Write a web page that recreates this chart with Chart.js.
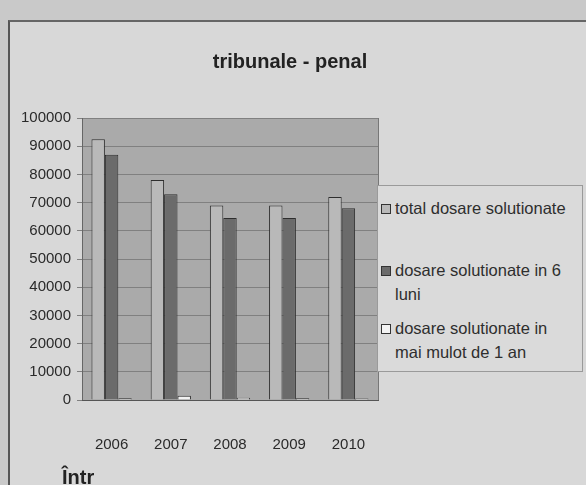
<!DOCTYPE html>
<html>
<head>
<meta charset="utf-8">
<script src="https://cdn.jsdelivr.net/npm/chart.js@4"></script>
<style>
    html, body { margin: 0; padding: 0; }
    body { width: 586px; height: 485px; background: #c9c9c9; overflow: hidden; font-family: 'Liberation Sans', Arial, sans-serif; }
    #frame { position: absolute; left: 8px; top: 20px; width: 600px; height: 480px; background: #d8d8d8; border-left: 2px solid #555; border-top: 2px solid #666; }
    #wrap { position: absolute; left: 0; top: 0; width: 586px; height: 485px; }
    #title { position: absolute; left: 190px; width: 200px; top: 50px; text-align: center; font-size: 20px; font-weight: bold; color: #222; }
    #legend { position: absolute; left: 377px; top: 185px; width: 206px; height: 187px; border: 1px solid #9a9a9a; background: #dadada; box-sizing: border-box; color: #2e2e2e; font-size: 16.5px; }
    .item { position: absolute; left: 3px; line-height: 24px; padding-left: 14px; white-space: nowrap; }
    .sw { position: absolute; left: 0; top: 8px; width: 8px; height: 8px; border: 1px solid #333; }
    #foot { position: absolute; left: 62px; top: 466px; font-size: 20px; font-weight: bold; color: #222; }
</style>
</head>
<body>
<div id="frame"></div>
<div id="wrap"><canvas id="chart" width="586" height="485"></canvas></div>
<div id="title">tribunale - penal</div>
<div id="legend"></div>
<div id="foot">Într</div>
<script>
document.addEventListener('DOMContentLoaded', () => {

    const years = ['2006', '2007', '2008', '2009', '2010'];
    const totalSolutionate = [92500, 78000, 69000, 69000, 72000];
    const solutionate6Luni = [87000, 73000, 64500, 64500, 68000];
    const solutionate1An = [600, 1500, 800, 600, 500];
    const yTicks = [0, 10000, 20000, 30000, 40000, 50000, 60000, 70000, 80000, 90000, 100000];

    const seriesNames = [
        ['total dosare solutionate'],
        ['dosare solutionate in 6', 'luni'],
        ['dosare solutionate in', 'mai mulot de 1 an']
    ];
    const colors = ['#b9b9b9', '#6b6b6b', '#f2f2f2'];

    // plot area background
    const plotBg = {
        id: 'plotBg',
        beforeDraw(chart) {
            const { ctx, chartArea: a } = chart;
            ctx.save();
            ctx.fillStyle = '#aaaaaa';
            ctx.fillRect(a.left, a.top, a.right - a.left, a.bottom - a.top);
            ctx.strokeStyle = '#777';
            ctx.lineWidth = 1;
            ctx.strokeRect(a.left + 0.5, a.top + 0.5, a.right - a.left, a.bottom - a.top);
            ctx.restore();
        }
    };

    const font = { family: "'Liberation Sans', Arial, sans-serif", size: 15 };

    new Chart(document.getElementById('chart').getContext('2d'), {
        type: 'bar',
        data: {
            labels: years,
            datasets: [totalSolutionate, solutionate6Luni, solutionate1An].map((d, i) => ({
                label: seriesNames[i].join(' '),
                data: d,
                backgroundColor: colors[i],
                borderColor: '#2e2e2e',
                borderWidth: 1,
                barPercentage: 1,
                categoryPercentage: 0.68
            }))
        },
        options: {
            responsive: false,
            animation: false,
            layout: { padding: { left: 0, right: 208, top: 118, bottom: 35 } },
            plugins: {
                legend: { display: false },
                tooltip: { enabled: false }
            },
            scales: {
                y: {
                    min: 0, max: 100000,
                    afterBuildTicks: axis => { axis.ticks = yTicks.map(v => ({ value: v })); },
                    afterFit: axis => { axis.width = 82; },
                    grid: { color: '#808080', drawTicks: true, tickLength: 5 },
                    border: { color: '#666' },
                    ticks: { color: '#2a2a2a', padding: 6, font, callback: v => String(v) }
                },
                x: {
                    afterFit: axis => { axis.height = 50; },
                    grid: { display: false },
                    border: { color: '#555' },
                    ticks: { color: '#2a2a2a', padding: 28, font: { family: font.family, size: 15 } }
                }
            }
        },
        plugins: [plotBg]
    });

    // HTML legend with wrapped labels
    const legend = document.getElementById('legend');
    const tops = [10, 72, 130];
    seriesNames.forEach((lines, i) => {
        const el = document.createElement('div');
        el.className = 'item';
        el.style.top = tops[i] + 'px';
        el.innerHTML = '<span class="sw" style="background:' + colors[i] + '"></span>' + lines.join('<br>');
        legend.appendChild(el);
    });
});
</script>
</body>
</html>
